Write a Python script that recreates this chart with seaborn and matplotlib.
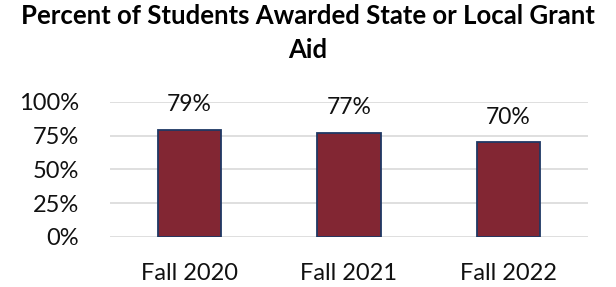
import pandas as pd
import matplotlib
matplotlib.use("Agg")
import matplotlib.pyplot as plt
import seaborn as sns
from matplotlib.ticker import PercentFormatter

terms = ["Fall 2020", "Fall 2021", "Fall 2022"]
pct_awarded = [79, 77, 70]
y_ticks = [0, 25, 50, 75, 100]

df = pd.DataFrame({"term": terms, "pct": pct_awarded})

sns.set_theme(style="white")
plt.rcParams["font.family"] = ["Lato", "DejaVu Sans"]

fig, ax = plt.subplots(figsize=(6.16, 2.87), dpi=100)
fig.subplots_adjust(left=0.178, right=0.955, top=0.645, bottom=0.175)

sns.barplot(data=df, x="term", y="pct", ax=ax, color="#822633",
            width=0.4, edgecolor="#1F3864", linewidth=1.3, saturation=1)

for i, v in enumerate(pct_awarded):
    ax.text(i, v + 11, f"{v}%", ha="center", va="bottom", fontsize=16.5, color="#111111")

ax.set_ylim(0, 100)
ax.set_yticks(y_ticks)
ax.yaxis.set_major_formatter(PercentFormatter(decimals=0))
ax.set_xlim(-0.5, 2.5)
ax.grid(axis="y", color="#D9D9D9", linewidth=1.2)
ax.set_axisbelow(True)
for s in ax.spines.values():
    s.set_visible(False)
ax.tick_params(axis="both", length=0, labelsize=17, colors="#111111")
ax.tick_params(axis="x", pad=19)
ax.tick_params(axis="y", pad=22)
ax.set_xlabel("")
ax.set_ylabel("")

fig.suptitle("Percent of Students Awarded State or Local Grant\nAid",
             fontsize=18.5, fontweight="bold", y=0.985, linespacing=1.5,
             color="black")

fig.savefig("out.png", dpi=100)
